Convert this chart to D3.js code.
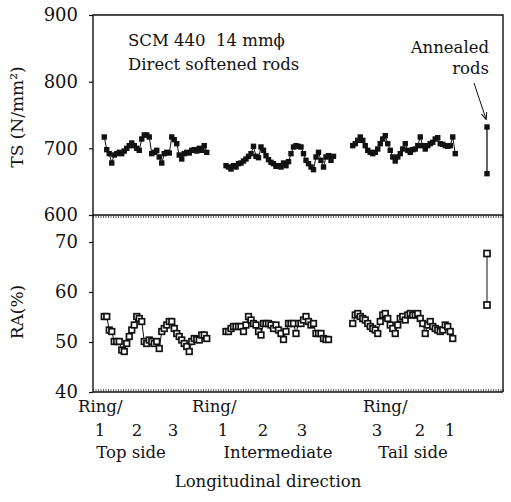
<!DOCTYPE html>
<html><head><meta charset="utf-8">
<script src="https://cdn.jsdelivr.net/npm/d3@7"></script>
<style>
body{margin:0;background:#fff;}
text{font-family:"DejaVu Serif","Liberation Serif",serif;fill:#111;}
</style></head>
<body><svg id="c" width="511" height="502"></svg>
<script>
// ---- data ----
const segmentNames = ["Top side", "Intermediate", "Tail side"];
const segmentStart = [4.5, 53.2, 103.9];   // sample position of first point
const annealedPos = 157.6;

const tsTop = [717,698,692,678,690,692,694,692,696,700,704,708,704,700,697,714,720,720,717,692,694,697,687,678,692,694,693,717,713,707,690,684,692,694,693,697,698,696,700,697,704,694];
const tsMid = [674,672,669,674,672,677,678,681,684,688,692,703,688,686,702,697,689,683,679,677,673,674,672,678,674,680,692,702,704,703,702,692,682,677,672,668,687,694,682,672,687,689,682,688];
const tsTail = [704,707,712,717,712,704,697,694,692,694,699,707,714,719,707,697,687,681,687,692,699,707,697,694,698,699,704,717,704,699,704,707,709,714,716,707,706,704,703,704,717,692];
const tsAnnealed = [732, 662];

const raTop = [55.1,55.1,52.4,52.1,50.1,50.1,50.1,48.4,48.1,49.7,51.1,52.4,53.4,55.1,54.7,54.1,50.1,49.7,50.4,50.1,49.7,50.1,48.7,52.1,52.7,53.4,54.1,54.1,52.7,51.7,51.1,50.4,49.7,49.1,48.1,50.1,50.7,50.5,50.4,51.4,51.4,50.7];
const raMid = [52.1,52.1,52.7,53.1,53.1,53.1,53.1,52.1,53.4,55.1,54.4,53.7,53.4,52.1,51.4,53.7,53.7,53.7,53.4,52.7,53.4,52.4,51.7,50.5,52.1,53.7,53.7,53.7,51.7,53.7,53.7,54.4,55.1,54.1,53.4,53.7,51.7,51.7,51.7,50.7,50.5,50.5];
const raTail = [53.7,55.4,55.7,55.1,54.7,54.4,53.7,53.1,52.7,52.4,51.7,54.1,55.4,55.7,54.7,53.4,52.7,51.7,53.4,54.7,55.1,54.4,55.4,55.7,55.4,55.4,55.7,54.7,53.7,51.7,53.4,54.1,53.1,52.7,52.4,52.1,52.4,53.4,53.1,52.1,50.7];
const raAnnealed = [67.7, 57.4];

const tsTicks = [600, 700, 800, 900];
const raTicks = [40, 50, 60, 70];
const ringLabels = [["1","2","3"],["1","2","3"],["3","2","1"]];

// ---- layout ----
const svg = d3.select("#c");
const L = 93, R = 503;
const x = d3.scaleLinear().domain([0, 164]).range([L, R]);
const yTS = d3.scaleLinear().domain([600, 900]).range([215, 15]);
const yRA = d3.scaleLinear().domain([40, 70]).range([392, 242]);

// frame
svg.append("path").attr("d", `M${L},${yRA(40)}V${yTS(900)}H${R}V${yRA(40)}`)
  .attr("fill","none").attr("stroke","#111").attr("stroke-width",1.4);
svg.append("line").attr("x1",L).attr("x2",R).attr("y1",yTS(600)).attr("y2",yTS(600))
  .attr("stroke","#111").attr("stroke-width",1.4);
svg.append("line").attr("x1",L).attr("x2",R).attr("y1",yRA(40)).attr("y2",yRA(40))
  .attr("stroke","#111").attr("stroke-width",1.4);

// ruler ticks
const rulerVals = d3.range(0, 165, 1);
const gTopRuler = svg.append("g").attr("transform",`translate(0,${yTS(600)})`)
  .call(d3.axisBottom(x).tickValues(rulerVals).tickSize(3).tickFormat("").tickSizeOuter(0));
const gBotRuler = svg.append("g").attr("transform",`translate(0,${yRA(40)})`)
  .call(d3.axisTop(x).tickValues(rulerVals).tickSize(3).tickFormat("").tickSizeOuter(0));
[gTopRuler, gBotRuler].forEach(g => { g.select(".domain").remove(); g.selectAll("line").attr("stroke","#222").attr("stroke-width",0.7); });

// y axes
function yAxis(scale, ticks) {
  const g = svg.append("g").attr("transform",`translate(${L},0)`)
    .call(d3.axisLeft(scale).tickValues(ticks).tickSize(4).tickPadding(11).tickSizeOuter(0));
  g.select(".domain").remove();
  g.selectAll("line").attr("stroke","#111").attr("stroke-width",1.2);
  g.selectAll("text").attr("font-size",18).attr("font-family","DejaVu Serif").attr("fill","#111");
  return g;
}
yAxis(yTS, tsTicks);
yAxis(yRA, raTicks);

// axis titles
svg.append("text").attr("transform",`translate(23,${(yTS(600)+yTS(900))/2 + 2}) rotate(-90)`)
  .attr("text-anchor","middle").attr("font-size",17).text("TS (N/mm²)");
svg.append("text").attr("transform",`translate(23,${yRA(56)}) rotate(-90)`)
  .attr("text-anchor","middle").attr("font-size",17).text("RA(%)");

// series
const tsSegs = [tsTop, tsMid, tsTail];
const raSegs = [raTop, raMid, raTail];
const toPts = (vals, i) => vals.map((v, j) => ({p: segmentStart[i] + j, v}));

const lineTS = d3.line().x(d => x(d.p)).y(d => yTS(d.v));
const lineRA = d3.line().x(d => x(d.p)).y(d => yRA(d.v));

tsSegs.forEach((vals, i) => {
  const pts = toPts(vals, i);
  svg.append("path").attr("d", lineTS(pts)).attr("fill","none").attr("stroke","#111").attr("stroke-width",1);
  svg.append("g").selectAll("rect").data(pts).join("rect")
    .attr("x", d => x(d.p) - 2.7).attr("y", d => yTS(d.v) - 2.7)
    .attr("width",5.4).attr("height",5.4).attr("fill","#111");
});
raSegs.forEach((vals, i) => {
  const pts = toPts(vals, i);
  svg.append("path").attr("d", lineRA(pts)).attr("fill","none").attr("stroke","#111").attr("stroke-width",1);
  svg.append("g").selectAll("rect").data(pts).join("rect")
    .attr("x", d => x(d.p) - 2.8).attr("y", d => yRA(d.v) - 2.8)
    .attr("width",5.6).attr("height",5.6).attr("fill","#fff").attr("stroke","#111").attr("stroke-width",1.7);
});

// annealed
const annTS = tsAnnealed.map(v => ({p: annealedPos, v}));
const annRA = raAnnealed.map(v => ({p: annealedPos, v}));
svg.append("path").attr("d", lineTS(annTS)).attr("stroke","#111").attr("stroke-width",1.3);
svg.append("g").selectAll("rect").data(annTS).join("rect")
  .attr("x", d => x(d.p) - 2.7).attr("y", d => yTS(d.v) - 2.7).attr("width",5.4).attr("height",5.4).attr("fill","#111");
svg.append("path").attr("d", lineRA(annRA)).attr("stroke","#111").attr("stroke-width",1);
svg.append("g").selectAll("rect").data(annRA).join("rect")
  .attr("x", d => x(d.p) - 3).attr("y", d => yRA(d.v) - 3).attr("width",6).attr("height",6)
  .attr("fill","#fff").attr("stroke","#111").attr("stroke-width",1.7);

// annotations
svg.append("text").attr("x",128).attr("y",46).attr("font-size",16.5).text("SCM 440\u00a0 14 mm\u03d5");
svg.append("text").attr("x",128).attr("y",70).attr("font-size",16.5).text("Direct softened rods");
svg.append("text").attr("x",489).attr("y",53).attr("text-anchor","end").attr("font-size",16.5).text("Annealed");
svg.append("text").attr("x",489).attr("y",74).attr("text-anchor","end").attr("font-size",16.5).text("rods");
svg.append("defs").append("marker").attr("id","ah").attr("viewBox","0 0 10 10").attr("refX",9).attr("refY",5)
  .attr("markerWidth",7).attr("markerHeight",7).attr("orient","auto")
  .append("path").attr("d","M0,1 L10,5 L0,9").attr("fill","none").attr("stroke","#111").attr("stroke-width",1.5);
svg.append("line").attr("x1",474).attr("y1",83).attr("x2",486).attr("y2",119)
  .attr("stroke","#111").attr("stroke-width",1).attr("marker-end","url(#ah)");

// x labels
const ringX = [78, 192, 363];
const numX = [[100,137,173],[223,263,302],[377,420,450]];
const groupX = [131, 278, 413];
ringX.forEach((rx, i) => {
  svg.append("text").attr("x", rx).attr("y", 412).attr("font-size",16.5).text("Ring/");
  ringLabels[i].forEach((t, k) => {
    svg.append("text").attr("x", numX[i][k]).attr("y", 436).attr("text-anchor","middle").attr("font-size",16.5).text(t);
  });
  svg.append("text").attr("x", groupX[i]).attr("y", 458).attr("text-anchor","middle").attr("font-size",16.5).text(segmentNames[i]);
});
svg.append("text").attr("x",268).attr("y",487).attr("text-anchor","middle").attr("font-size",16.5).text("Longitudinal direction");
</script></body></html>
